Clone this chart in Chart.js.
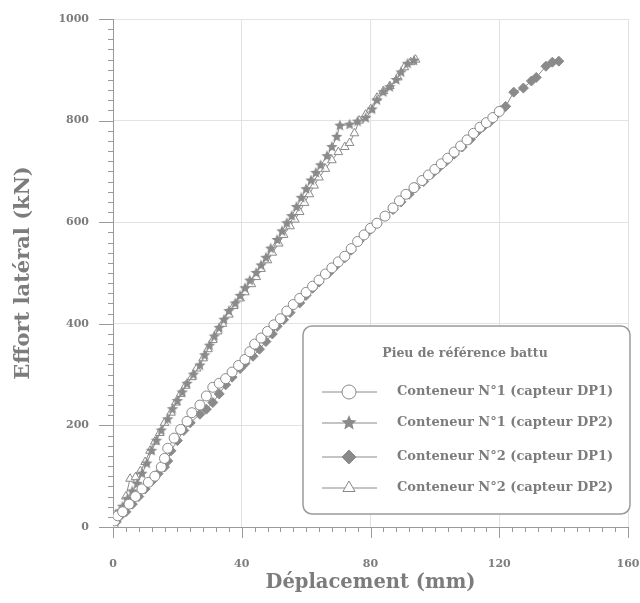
<!DOCTYPE html>
<html>
<head>
<meta charset="utf-8">
<script src="https://cdn.jsdelivr.net/npm/chart.js@4.4.1/dist/chart.umd.min.js"></script>
<style>
  html, body { margin: 0; padding: 0; background: #fff; }
  #wrap { width: 640px; height: 603px; }
</style>
</head>
<body>
<div id="wrap"><canvas id="effortChart" width="640" height="603"></canvas></div>
<script>
// Load-displacement readings, [displacement mm, load kN]
const seriesLabels = [
  "Conteneur N°1 (capteur DP1)",
  "Conteneur N°1 (capteur DP2)",
  "Conteneur N°2 (capteur DP1)",
  "Conteneur N°2 (capteur DP2)"
];
const legendTitle = "Pieu de référence battu";

const cont1DP1 = [[0,0],[0.5,12],[1.5,22],[3,30],[5,45],[7,60],[9,75],[11,88],[13,100],[15,118],[16,135],[17,155],[19,175],[21,192],[23,208],[24.5,225],[27,240],[29,258],[31,275],[33,283],[35,292],[37,305],[39,318],[41,330],[42.5,345],[44,360],[46,372],[48,385],[50,398],[52,410],[54,425],[56,438],[58,450],[60,462],[62,474],[64,486],[66,498],[68,510],[70,522],[72,533],[74,548],[76,562],[78,575],[80,588],[82,598],[84.5,612],[87,628],[89,642],[91,655],[93.5,668],[96,682],[98,693],[100,704],[102,715],[104,726],[106,738],[108,750],[110,762],[112,775],[114,787],[116,796],[118,806],[120,818]];
const cont1DP2 = [[0,0],[0.5,10],[1,25],[2,30],[3,40],[4.5,55],[6,70],[7.5,85],[9,105],[10.5,125],[12,150],[13.5,170],[15,190],[17,212],[18.5,232],[20,248],[21.5,265],[23,282],[25,300],[27,318],[28.5,338],[30,357],[31.5,375],[33,392],[34.5,408],[36,425],[38,440],[39.5,455],[41,470],[42.5,485],[44.5,500],[46,515],[47.5,530],[49,548],[51,565],[52.5,582],[54,598],[55.5,612],[57,630],[58.5,648],[60,665],[61.5,682],[63,697],[64.5,712],[66.5,730],[68,748],[69.5,768],[70.5,790],[73.5,792],[76,798],[78.5,805],[80.5,822],[82,840],[84,856],[86,866],[88,880],[89.5,895],[91.5,912],[93.5,918]];
const cont2DP1 = [[0,0],[1,10],[2,20],[4,30],[6,45],[8,60],[10,75],[12,90],[14,105],[16,118],[17,130],[18,150],[20,170],[22,190],[24,205],[27,222],[29,232],[31,245],[33,262],[35,280],[37,295],[39.5,312],[41,322],[43.5,336],[45.5,350],[47.5,365],[49.5,380],[51,395],[53,408],[55,422],[58,441],[60,456],[62,470],[64,482],[67,500],[69,513],[72,530],[74,545],[76.5,563],[79,580],[82,598],[84.5,612],[87,625],[89.5,640],[92,655],[94,668],[96.5,680],[99,695],[101,706],[103.5,720],[106,734],[108.5,748],[111,763],[113,777],[115,788],[117,797],[118.5,808],[120.5,820],[122,828],[124.5,856],[127.5,864],[130,878],[131.5,885],[134.5,907],[136.5,915],[138.5,917]];
const cont2DP2 = [[0,0],[0.5,15],[1.5,25],[3,35],[4,60],[5.3,95],[7,98],[8.5,110],[10,128],[11.5,150],[13,168],[14.5,185],[16,205],[18,225],[19.5,245],[21,262],[22.5,278],[24.5,295],[26,312],[28,332],[29.5,350],[31,368],[32.5,385],[34,400],[36,418],[37.5,435],[39.5,450],[41,462],[43,478],[44.5,492],[46,508],[48,525],[49.5,540],[51.5,558],[53,575],[55,592],[56.5,605],[58,620],[59.5,638],[61,655],[62.5,672],[64,688],[66,705],[68,722],[70,738],[72,748],[73.5,756],[75,775],[76.5,800],[78.5,812],[80,822],[82,845],[84,858],[86,868],[88.5,885],[90.5,905],[92.5,915],[94,920]];

const xTicks = [0, 40, 80, 120, 160];
const yTicks = [0, 200, 400, 600, 800, 1000];

const GREY = "#8a8a8a";
const TEXT = "#7c7c7c";
const SERIF = "'DejaVu Serif', 'Liberation Serif', serif";

function toPts(arr) {
  return arr.map(p => ({ x: p[0], y: p[1] }));
}

// filled five point star used as a point image
function makeStar(r) {
  const c = document.createElement("canvas");
  c.width = c.height = r * 2 + 2;
  const g = c.getContext("2d");
  g.translate(r + 1, r + 1);
  g.beginPath();
  for (let i = 0; i < 10; i++) {
    const rad = i % 2 === 0 ? r : r * 0.45;
    const a = -Math.PI / 2 + i * Math.PI / 5;
    g.lineTo(rad * Math.cos(a), rad * Math.sin(a));
  }
  g.closePath();
  g.fillStyle = GREY;
  g.fill();
  return c;
}
const starImg = makeStar(6);
const starBig = makeStar(8);

// minor + major ticks, drawn on the scales
const tickMarks = {
  id: "tickMarks",
  afterDraw(chart) {
    const ctx = chart.ctx;
    const xs = chart.scales.x, ys = chart.scales.y;
    const area = chart.chartArea;
    ctx.save();
    ctx.strokeStyle = "#9a9a9a";
    ctx.lineWidth = 1;
    ctx.beginPath();
    for (let v = 0; v <= 160; v += 4) {
      const px = Math.round(xs.getPixelForValue(v)) + 0.5;
      const len = v % 40 === 0 ? 11 : 5;
      ctx.moveTo(px, area.bottom);
      ctx.lineTo(px, area.bottom + len);
    }
    for (let v = 0; v <= 1000; v += 20) {
      const py = Math.round(ys.getPixelForValue(v)) + 0.5;
      const len = v % 200 === 0 ? 14 : 5;
      ctx.moveTo(area.left, py);
      ctx.lineTo(area.left - len, py);
    }
    ctx.stroke();
    ctx.restore();
  }
};

// boxed legend in lower right of the plot
const boxLegend = {
  id: "boxLegend",
  afterDraw(chart) {
    const ctx = chart.ctx;
    const area = chart.chartArea;
    const bx = area.left + 190, by = area.top + 307;
    const bw = 327, bh = 188;
    ctx.save();
    ctx.beginPath();
    ctx.roundRect(bx, by, bw, bh, 9);
    ctx.fillStyle = "#fff";
    ctx.fill();
    ctx.strokeStyle = "#9a9a9a";
    ctx.lineWidth = 1.5;
    ctx.stroke();

    ctx.fillStyle = TEXT;
    ctx.font = "bold 12.5px " + SERIF;
    ctx.textAlign = "center";
    ctx.textBaseline = "middle";
    ctx.fillText(legendTitle, bx + 162, by + 28);

    const rows = [66, 97, 131, 162];
    chart.data.datasets.forEach((ds, i) => {
      const ry = by + rows[i];
      ctx.strokeStyle = GREY;
      ctx.lineWidth = 1;
      ctx.beginPath();
      ctx.moveTo(bx + 19, ry);
      ctx.lineTo(bx + 74, ry);
      ctx.stroke();
      ctx.fillStyle = ds.pointBackgroundColor;
      ctx.strokeStyle = GREY;
      Chart.helpers.drawPoint(ctx, {
        pointStyle: ds.pointStyle === starImg ? starBig : ds.pointStyle,
        radius: 7,
        borderWidth: 1
      }, bx + 46, ry);
      ctx.fillStyle = TEXT;
      ctx.font = "bold 13px " + SERIF;
      ctx.textAlign = "left";
      ctx.fillText(ds.label, bx + 94, ry);
    });
    ctx.restore();
  }
};

function dataset(label, pts, style, fill) {
  return {
    label: label,
    data: toPts(pts),
    showLine: true,
    borderColor: GREY,
    borderWidth: 1,
    backgroundColor: fill,
    pointStyle: style,
    pointRadius: 5,
    pointBorderWidth: 1,
    pointBorderColor: GREY,
    pointBackgroundColor: fill
  };
}

function noPad(s) {
  s.paddingTop = 0;
  s.paddingBottom = 0;
  s.paddingLeft = 0;
  s.paddingRight = 0;
}

const tickFont = { family: SERIF, size: 11, weight: "bold" };

new Chart(document.getElementById("effortChart"), {
  type: "scatter",
  data: {
    datasets: [
      dataset(seriesLabels[0], cont1DP1, "circle", "#ffffff"),
      dataset(seriesLabels[1], cont1DP2, starImg, GREY),
      dataset(seriesLabels[2], cont2DP1, "rectRot", GREY),
      dataset(seriesLabels[3], cont2DP2, "triangle", "#ffffff")
    ]
  },
  options: {
    responsive: false,
    animation: false,
    layout: { padding: { top: 19, right: 12, bottom: 0, left: 0 } },
    plugins: {
      legend: { display: false },
      tooltip: { enabled: false }
    },
    scales: {
      x: {
        type: "linear",
        min: 0,
        max: 160,
        afterBuildTicks: s => { s.ticks = xTicks.map(v => ({ value: v })); },
        afterFit: s => { s.height = 76; noPad(s); },
        grid: { color: "#e2e2e2", drawTicks: false },
        border: { color: "#9a9a9a" },
        ticks: { color: TEXT, font: tickFont, padding: 31, callback: v => String(v) },
        title: {
          display: true,
          text: "Déplacement (mm)",
          color: TEXT,
          font: { family: SERIF, size: 19.5, weight: "bold" },
          padding: { top: 0, bottom: 8 }
        }
      },
      y: {
        type: "linear",
        min: 0,
        max: 1000,
        afterBuildTicks: s => { s.ticks = yTicks.map(v => ({ value: v })); },
        afterFit: s => { s.width = 113; noPad(s); },
        grid: { color: "#e2e2e2", drawTicks: false },
        border: { color: "#9a9a9a" },
        ticks: { color: TEXT, font: tickFont, padding: 24, callback: v => String(v) },
        title: {
          display: true,
          text: "Effort latéral (kN)",
          color: TEXT,
          font: { family: SERIF, size: 21, weight: "bold" },
          padding: { top: 11, bottom: 0 }
        }
      }
    }
  },
  plugins: [tickMarks, boxLegend]
});
</script>
</body>
</html>
